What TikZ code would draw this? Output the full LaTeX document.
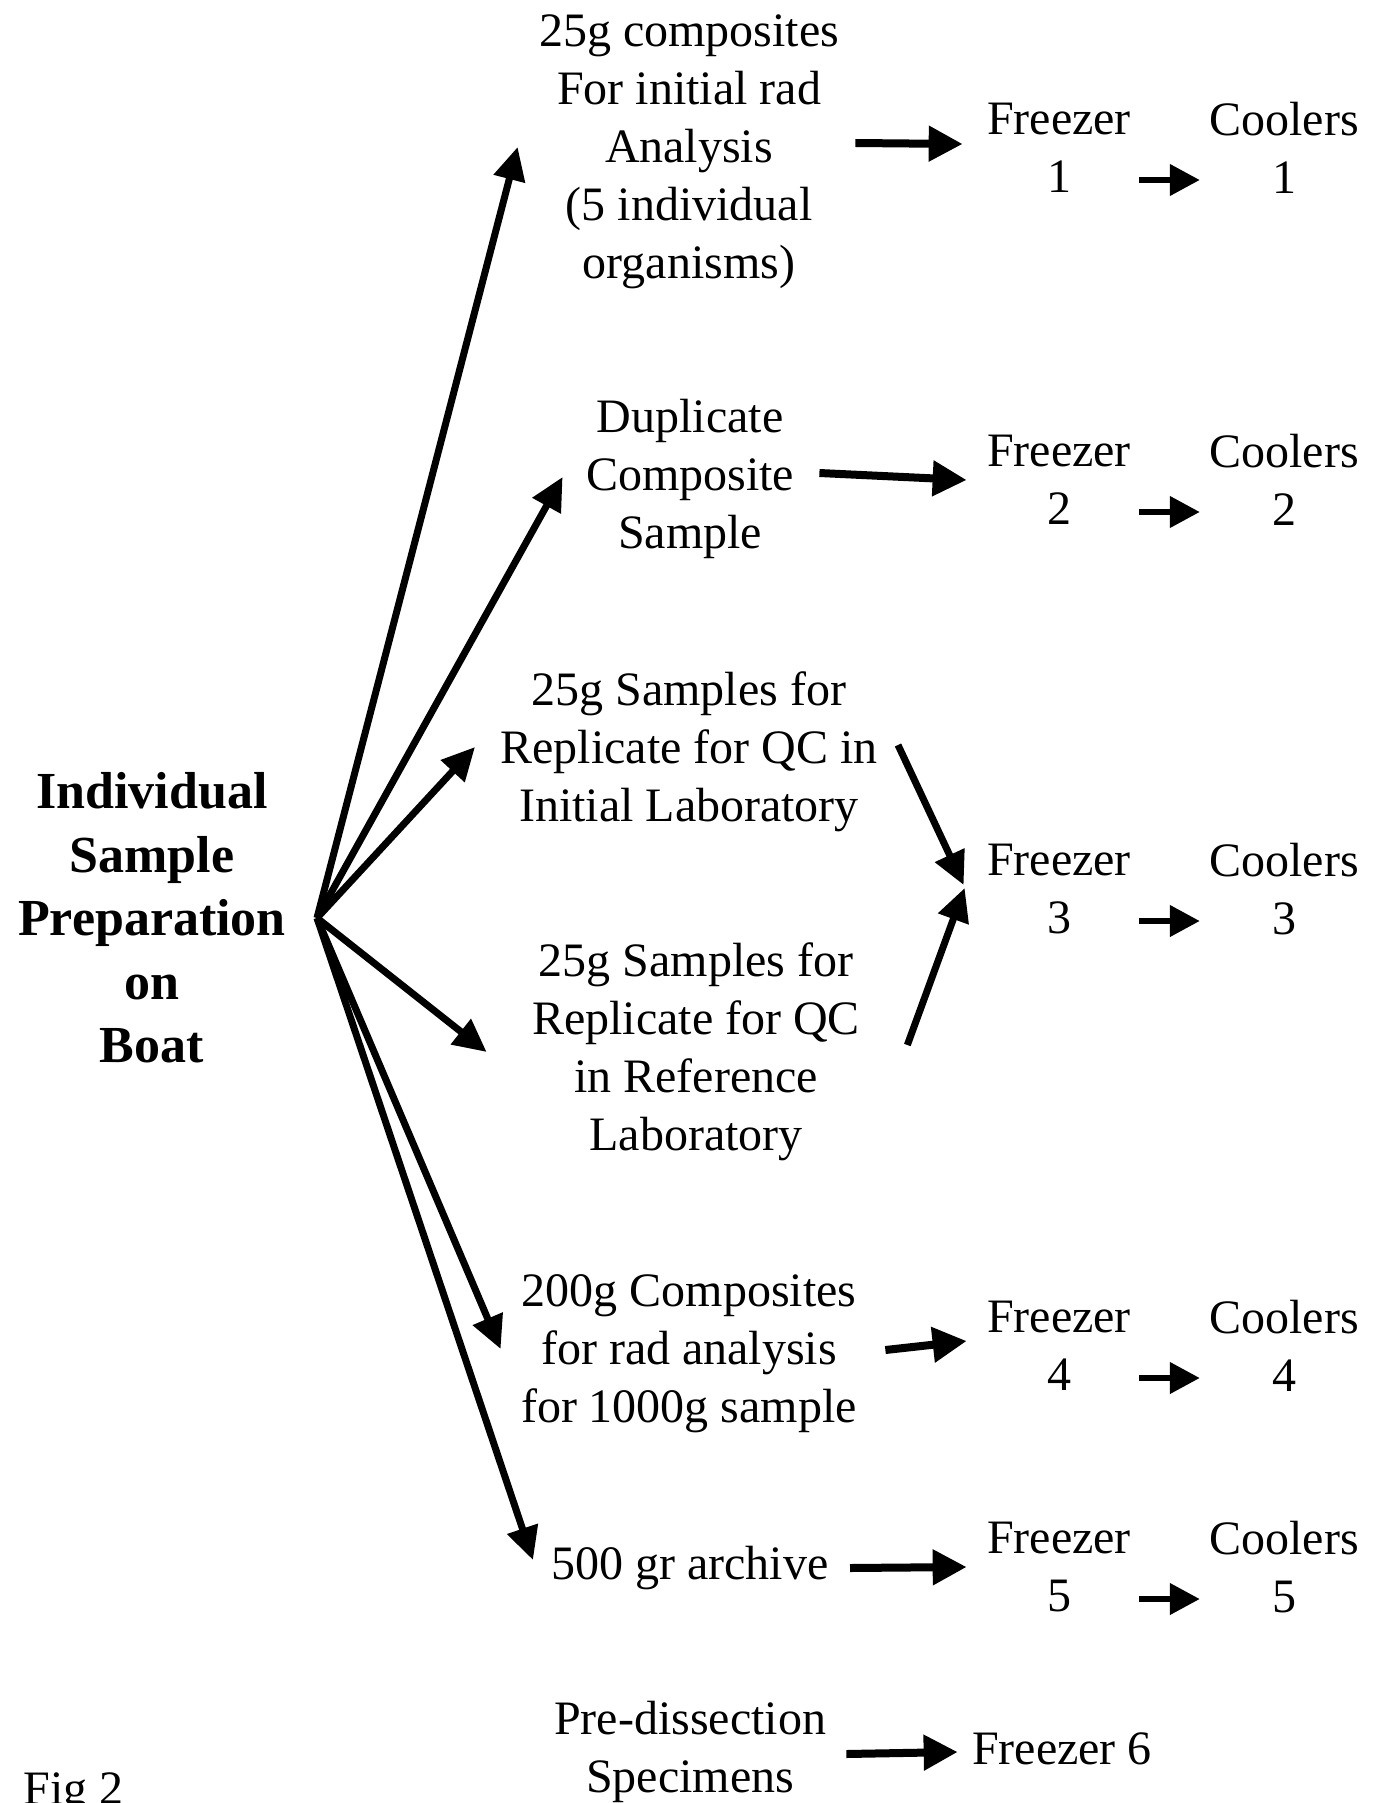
\documentclass[tikz,border=0pt]{standalone}
\usepackage{fontspec}
\setmainfont{Liberation Serif}
\usetikzlibrary{arrows.meta}
\begin{document}
\begin{tikzpicture}[x=0.5pt,y=-0.5pt,
    lbl/.style={font=\fontsize{24}{29}\selectfont,align=center,inner sep=2pt},
    ttl/.style={font=\fontsize{26}{31.75}\selectfont\bfseries,align=center,inner sep=2pt},
    fan/.style={-{Triangle[length=16.5pt,width=15.5pt]},line width=3.5pt},
    fwd/.style={-{Triangle[length=17pt,width=17pt]},line width=4pt},
    hop/.style={-{Triangle[length=15pt,width=15pt]},line width=3.4pt}]
    \useasboundingbox (0,0) rectangle (1373,1803);
    \node[ttl] (prep) at (152,918) {Individual\\Sample\\Preparation\\on\\Boat};
    \coordinate (hub) at (317,918);
    \node[lbl] (comp) at (689,152) {25g composites\\For initial rad\\Analysis\\(5 individual\\organisms)};
    \node[lbl] (dupl) at (690,479) {Duplicate\\Composite\\Sample};
    \node[lbl] (repi) at (689,752) {25g Samples for\\Replicate for QC in\\Initial Laboratory};
    \node[lbl] (repr) at (696,1052) {25g Samples for\\Replicate for QC\\in Reference\\Laboratory};
    \node[lbl] (bulk) at (689,1354) {200g Composites\\for rad analysis\\for 1000g sample};
    \node[lbl] (arch) at (690,1568) {500 gr archive};
    \node[lbl] (pred) at (690,1752) {Pre-dissection\\Specimens};
    \node[lbl] (fz6) at (1062,1749) {Freezer 6};
    \node[lbl,anchor=base west,inner sep=0pt] (fig) at (23,1804) {Fig 2};
    % freezers and coolers
    \foreach \k/\y in {1/148,2/480,3/889,4/1346,5/1567}{
        \node[lbl] (fz\k) at (1059,\y) {Freezer\\\k};
        \node[lbl] (cl\k) at (1284,\y) {Coolers\\\k};
        \draw[hop] ([xshift=2pt,yshift=-16pt]fz\k.east) -- ([xshift=-2.5pt,yshift=-16pt]cl\k.west);
    }
    % from the boat
    \draw[fan] (hub) -- ([xshift=-8.5pt,yshift=2.5pt]comp.west);
    \draw[fan] (hub) -- ([xshift=-9.5pt,yshift=1pt]dupl.west);
    \draw[fan] (hub) -- ([xshift=-10.5pt,yshift=2.5pt]repi.west);
    \draw[fan] (hub) -- ([xshift=-20.5pt]repr.west);
    \draw[fan] (hub) -- ([xshift=-8pt,yshift=2.5pt]bulk.west);
    \draw[fan] (hub) -- ([xshift=-7pt,yshift=4pt]arch.west);
    % into the freezers
    \draw[fwd] ([xshift=6pt,yshift=4.5pt]comp.east) -- ([xshift=-10pt,yshift=2pt]fz1.west);
    \draw[fwd] ([xshift=10.5pt,yshift=3pt]dupl.east) -- ([xshift=-8pt]fz2.west);
    \draw[fan] ([xshift=8pt,yshift=3.5pt]repi.east) -- ([xshift=-9.5pt,yshift=2pt]fz3.west);
    \draw[fan] ([xshift=21.5pt,yshift=3.5pt]repr.east) -- ([xshift=-9pt,yshift=0.5pt]fz3.west);
    \draw[fwd] ([xshift=12pt,yshift=2pt]bulk.east) -- ([xshift=-8pt,yshift=2.5pt]fz4.west);
    \draw[fwd] ([xshift=8.5pt]arch.east) -- ([xshift=-8pt]fz5.west);
    \draw[fwd] ([xshift=8pt,yshift=-1pt]pred.east) -- ([xshift=-5pt,yshift=-1.5pt]fz6.west);
\end{tikzpicture}
\end{document}
